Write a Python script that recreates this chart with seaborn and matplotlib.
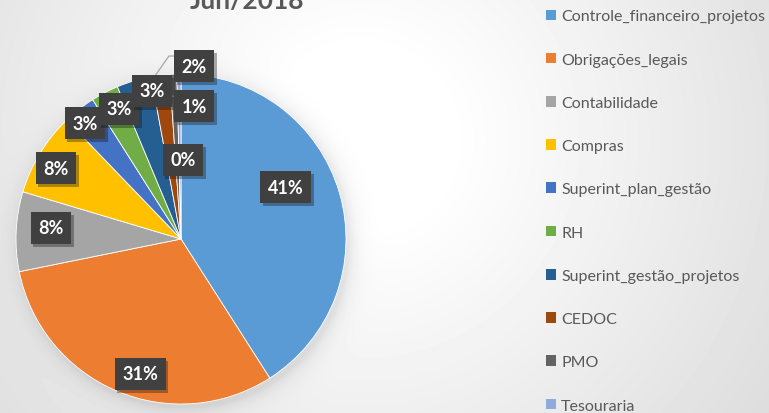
import numpy as np
import matplotlib
matplotlib.use("Agg")
import matplotlib.pyplot as plt
import matplotlib.patheffects as pe
from matplotlib.patches import Patch
import seaborn as sns

sns.set_theme(style="white")
plt.rcParams['font.family'] = ['Lato', 'DejaVu Sans']

# ---- data ----
title = "Jun/2018"
categories = ["Controle_financeiro_projetos", "Obrigações_legais", "Contabilidade",
              "Compras", "Superint_plan_gestão", "RH", "Superint_gestão_projetos",
              "CEDOC", "PMO", "Tesouraria"]
values = [41.0, 30.9, 7.8, 8.2, 3.2, 2.7, 3.4, 1.8, 0.7, 0.4]
colors = ["#5B9BD5", "#ED7D31", "#A5A5A5", "#FFC000", "#4472C4", "#70AD47",
          "#255E91", "#9E480E", "#636363", "#8FAADC"]

W, H = 769, 414
fig = plt.figure(figsize=(W / 100, H / 100), dpi=100)

# ---- background: soft radial gradient + pie shadow ----
bg = fig.add_axes([0, 0, 1, 1], zorder=0)
yy, xx = np.mgrid[0:H, 0:W]
d = np.hypot(xx - 360, yy - 140)
base = 1.0 - 0.14 * np.clip((d - 90) / 420, 0, 1)
dp = np.hypot(xx - 184, yy - 244)
shadow = 0.10 * np.exp(-np.clip(dp - 164, 0, None) / 9.0)
img = np.clip(base - shadow, 0, 1)
bg.imshow(img, cmap="gray", vmin=0, vmax=1, extent=[0, W, H, 0], aspect="auto")
bg.set_axis_off()

# ---- pie ----
cx, cy, r = 181, 240, 165
half = 1.2 * r
ax = fig.add_axes([(cx - half) / W, (H - cy - half) / H, 2 * half / W, 2 * half / H], zorder=2)
ax.set_axis_off()
ax.patch.set_alpha(0)

wedges, _ = ax.pie(values, colors=colors, startangle=90, counterclock=False,
                   radius=1.0, wedgeprops=dict(linewidth=0.6, edgecolor="white"))
ax.set_xlim(-1.2, 1.2)
ax.set_ylim(-1.2, 1.2)
ax.set_aspect("equal")

# data-label placement (layout only, in pie-radius units)
label_xy = [(0.636, 0.315), (-0.248, -0.818), (-0.788, 0.067), (-0.758, 0.430),
            (-0.582, 0.703), (-0.376, 0.788), (-0.176, 0.897), (0.079, 1.048),
            (0.079, 0.806), (0.012, 0.479)]
for (x, y), v in zip(label_xy, values):
    t = ax.text(x, y, f"{round(v):.0f}%", ha="center", va="center", color="white",
                fontsize=13, fontweight="bold", zorder=5, clip_on=False,
                bbox=dict(boxstyle="square,pad=0.42", facecolor="#404040", edgecolor="none"))
    t.get_bbox_patch().set_path_effects([pe.SimplePatchShadow(offset=(2, -2), alpha=0.35),
                                         pe.Normal()])

# leader lines for the small slices
ax.plot([-0.030, -0.073, -0.158], [1.109, 1.109, 0.988], color="#a6a6a6", lw=0.9, zorder=4)
ax.plot([-0.030, -0.055], [0.861, 0.867], color="#a6a6a6", lw=0.9, zorder=4)

# ---- title (partially cut at top, as in the source) ----
fig.text(247 / W, 1 - 9 / H, title, ha="center", va="baseline", fontsize=19,
         fontweight="bold", color="#595959")

# ---- legend ----
handles = [Patch(facecolor=c, edgecolor="none") for c in colors]
leg = fig.legend(handles, categories, loc="upper left",
                 bbox_to_anchor=(546 / W, 1 - 10.5 / H), frameon=False,
                 fontsize=11.5, labelcolor="#595959", handlelength=0.65,
                 handleheight=0.65, handletextpad=0.3, labelspacing=1.83,
                 borderpad=0, borderaxespad=0)

fig.savefig("out.png", dpi=100)
